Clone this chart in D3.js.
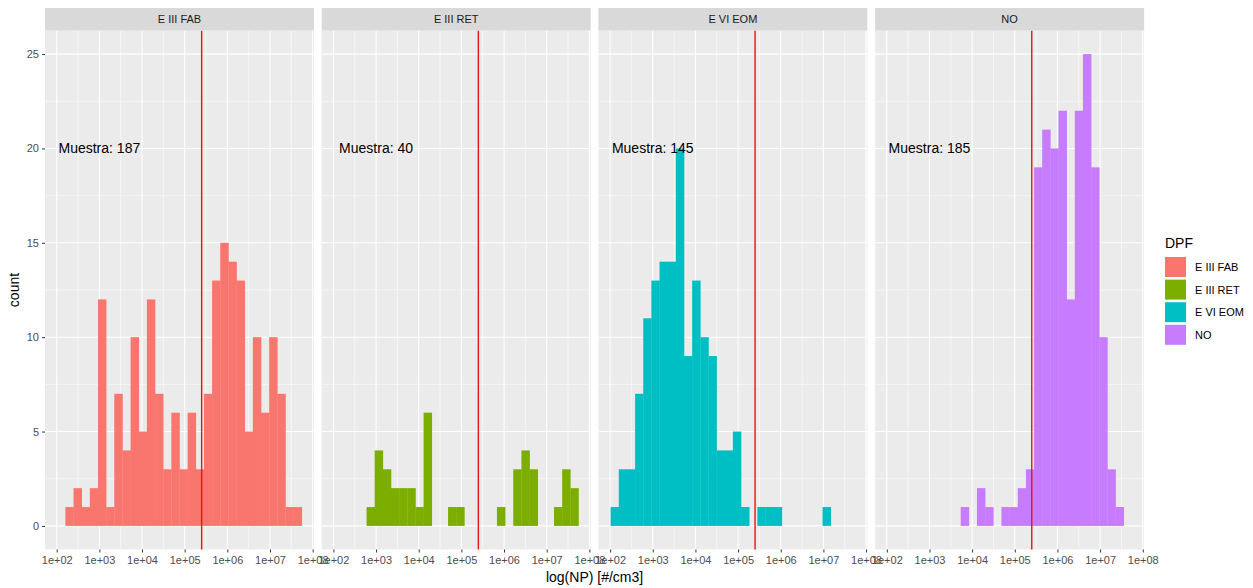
<!DOCTYPE html>
<html>
<head>
<meta charset="utf-8">
<script src="https://cdn.jsdelivr.net/npm/d3@7"></script>
<style>
  html, body { margin: 0; padding: 0; background: #ffffff; }
  svg { display: block; font-family: "Liberation Sans", Arial, sans-serif; }
</style>
</head>
<body>
<svg id="chart" width="1253" height="588"></svg>
<script>
// Facet categories (DPF) and their fill colours
const categories = ["E III FAB", "E III RET", "E VI EOM", "NO"];
const fills = ["#F8766D", "#7CAE00", "#00BFC4", "#C77CFF"];

// Histogram bins on log10(NP): first edge and bin width, 30 bins
const binStartLog10 = 2.012;
const binWidthLog10 = 0.1911;
const binCount = 30;

// Counts per bin, one array per facet
const countsFAB = [0,1,2,1,2,12,1,7,4,10,5,12,7,3,6,3,6,3,7,13,15,14,13,5,10,6,10,7,1,1];
const countsRET = [0,0,0,0,1,4,3,2,2,2,1,6,0,0,1,1,0,0,0,0,1,0,3,4,3,0,0,1,3,2];
const countsEOM = [1,3,3,7,11,13,14,14,20,9,13,10,9,4,4,5,1,0,1,1,1,0,0,0,0,0,1,0,0,0];
const countsNO  = [0,0,0,0,0,0,0,0,0,1,0,2,1,0,1,1,2,3,19,21,20,22,12,22,25,19,10,3,1,0];
const seriesCounts = [countsFAB, countsRET, countsEOM, countsNO];

// Reference threshold (vertical line) in #/cm3
const threshold = 2.5e5;

// Axis ticks
const xTickValues = [1e2, 1e3, 1e4, 1e5, 1e6, 1e7, 1e8];
const xTickLabels = ["1e+02", "1e+03", "1e+04", "1e+05", "1e+06", "1e+07", "1e+08"];
const yTickValues = [0, 5, 10, 15, 20, 25];

// Annotation anchor (data units)
const annotX = 1e3;
const annotY = 20;

// ---------------------------------------------------------------
const svg = d3.select("#chart");

const panelLeft0 = 45, panelW = 269, panelGap = 7.7;
const panelTop = 30.5, panelBottom = 549.5;
const stripTop = 8;

// bin edges in data units
const edges = d3.range(binCount + 1).map(i => Math.pow(10, binStartLog10 + i * binWidthLog10));
const lo = binStartLog10, hi = binStartLog10 + binCount * binWidthLog10;
const pad = (hi - lo) * 0.05;

const yPad = 25 * 0.05;
const y = d3.scaleLinear().domain([-yPad, 25 + yPad]).range([panelBottom, panelTop]);

categories.forEach((cat, k) => {
  const left = panelLeft0 + k * (panelW + panelGap);
  const x = d3.scaleLog()
    .domain([Math.pow(10, lo - pad), Math.pow(10, hi + pad)])
    .range([left, left + panelW]);

  const g = svg.append("g");

  // panel background
  g.append("rect").attr("x", left).attr("y", panelTop)
    .attr("width", panelW).attr("height", panelBottom - panelTop)
    .attr("fill", "#EBEBEB");

  // minor grid
  const xMinor = d3.range(2, 8).map(e => Math.pow(10, e + 0.5));
  g.selectAll(".xminor").data(xMinor).join("line")
    .attr("x1", d => x(d)).attr("x2", d => x(d))
    .attr("y1", panelTop).attr("y2", panelBottom)
    .attr("stroke", "#ffffff").attr("stroke-width", 0.55);
  const yMinor = [2.5, 7.5, 12.5, 17.5, 22.5];
  g.selectAll(".yminor").data(yMinor).join("line")
    .attr("x1", left).attr("x2", left + panelW)
    .attr("y1", d => y(d)).attr("y2", d => y(d))
    .attr("stroke", "#ffffff").attr("stroke-width", 0.55);

  // major grid
  g.selectAll(".xmajor").data(xTickValues).join("line")
    .attr("x1", d => x(d)).attr("x2", d => x(d))
    .attr("y1", panelTop).attr("y2", panelBottom)
    .attr("stroke", "#ffffff").attr("stroke-width", 1.1);
  g.selectAll(".ymajor").data(yTickValues).join("line")
    .attr("x1", left).attr("x2", left + panelW)
    .attr("y1", d => y(d)).attr("y2", d => y(d))
    .attr("stroke", "#ffffff").attr("stroke-width", 1.1);

  // histogram bars
  const bins = seriesCounts[k].map((c, i) => ({ x0: edges[i], x1: edges[i + 1], count: c }))
    .filter(b => b.count > 0);
  g.selectAll(".bar").data(bins).join("rect")
    .attr("x", d => x(d.x0))
    .attr("width", d => x(d.x1) - x(d.x0) + 0.3)
    .attr("y", d => y(d.count))
    .attr("height", d => y(0) - y(d.count))
    .attr("fill", fills[k]);

  // threshold line
  g.append("line")
    .attr("x1", x(threshold)).attr("x2", x(threshold))
    .attr("y1", panelTop).attr("y2", panelBottom)
    .attr("stroke", "#E8140F").attr("stroke-width", 1.4);

  // sample-size annotation
  const n = d3.sum(seriesCounts[k]);
  g.append("text")
    .attr("x", x(annotX)).attr("y", y(annotY))
    .attr("text-anchor", "middle").attr("dominant-baseline", "central")
    .attr("font-size", 14).attr("fill", "#000000")
    .text("Muestra: " + n);

  // strip
  g.append("rect").attr("x", left).attr("y", stripTop)
    .attr("width", panelW).attr("height", panelTop - stripTop)
    .attr("fill", "#D9D9D9");
  g.append("text")
    .attr("x", left + panelW / 2).attr("y", (stripTop + panelTop) / 2)
    .attr("text-anchor", "middle").attr("dominant-baseline", "central")
    .attr("font-size", 11).attr("fill", "#1A1A1A")
    .text(cat);

  // x axis
  const xAxis = d3.axisBottom(x).tickValues(xTickValues)
    .tickFormat((d, i) => xTickLabels[i]).tickSize(3).tickPadding(4);
  const ax = g.append("g").attr("transform", `translate(0,${panelBottom})`).call(xAxis);
  ax.select(".domain").remove();
  ax.selectAll(".tick line").attr("stroke", "#333333");
  ax.selectAll(".tick text").attr("fill", "#4D4D4D").attr("font-size", 11)
    .attr("font-family", "Liberation Sans, Arial, sans-serif");
});

// y axis (left panel only)
const yAxis = d3.axisLeft(y).tickValues(yTickValues).tickSize(3).tickPadding(3);
const ay = svg.append("g").attr("transform", `translate(${panelLeft0},0)`).call(yAxis);
ay.select(".domain").remove();
ay.selectAll(".tick line").attr("stroke", "#333333");
ay.selectAll(".tick text").attr("fill", "#4D4D4D").attr("font-size", 11)
  .attr("font-family", "Liberation Sans, Arial, sans-serif");

// axis titles
const plotRight = panelLeft0 + 4 * panelW + 3 * panelGap;
svg.append("text")
  .attr("x", (panelLeft0 + plotRight) / 2).attr("y", 582)
  .attr("text-anchor", "middle").attr("font-size", 14).attr("fill", "#000")
  .text("log(NP) [#/cm3]");
svg.append("text")
  .attr("transform", `translate(19,${(panelTop + panelBottom) / 2}) rotate(-90)`)
  .attr("text-anchor", "middle").attr("font-size", 14).attr("fill", "#000")
  .text("count");

// legend
const legend = svg.append("g");
legend.append("text").attr("x", 1165).attr("y", 248)
  .attr("font-size", 14).attr("fill", "#000").text("DPF");
const keys = legend.selectAll(".key").data(categories).join("g")
  .attr("transform", (d, i) => `translate(1165,${257 + i * 22.6})`);
keys.append("rect").attr("width", 21).attr("height", 20)
  .attr("fill", (d, i) => fills[i]);
keys.append("text").attr("x", 30).attr("y", 10)
  .attr("dominant-baseline", "central").attr("font-size", 11).attr("fill", "#000")
  .text(d => d);
</script>
</body>
</html>
